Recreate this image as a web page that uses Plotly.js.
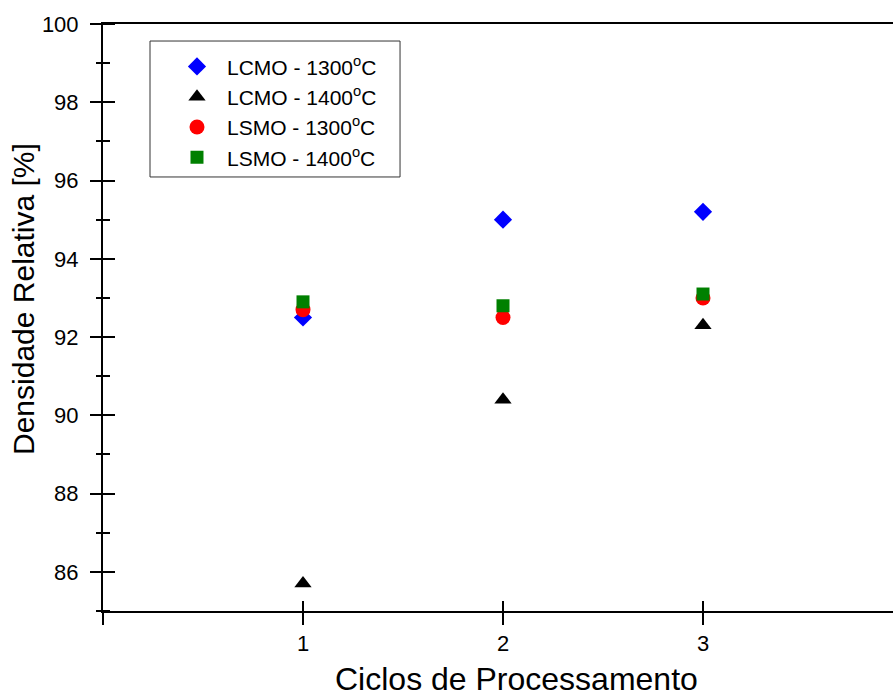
<!DOCTYPE html>
<html>
<head>
<meta charset="utf-8">
<script src="https://cdn.plot.ly/plotly-3.0.1.min.js"></script>
<style>html,body{margin:0;padding:0;background:#fff;}#chart{width:893px;height:694px;}</style>
</head>
<body>
<div id="chart"></div>
<script>
var cycles = [1, 2, 3];
var lcmo1300 = [92.5, 95.0, 95.2];
var lcmo1400 = [85.7, 90.4, 92.3];
var lsmo1300 = [92.7, 92.5, 93.0];
var lsmo1400 = [92.9, 92.8, 93.1];
var seriesNames = ['LCMO - 1300<sup>o</sup>C', 'LCMO - 1400<sup>o</sup>C', 'LSMO - 1300<sup>o</sup>C', 'LSMO - 1400<sup>o</sup>C'];
var xTitle = 'Ciclos de Processamento';
var yTitle = 'Densidade Relativa [%]';
var xTickVals = [0, 1, 2, 3];
var xTickText = ['', '1', '2', '3'];
var yTickVals = [86, 88, 90, 92, 94, 96, 98, 100];
var yTickText = ['86', '88', '90', '92', '94', '96', '98', '100'];

var FONT = 'Liberation Sans, Arial, sans-serif';
var xr = [0, 3.95], yr = [85, 100];

var ghost = {opacity: 0, size: 1};
var traces = [
  {x: cycles, y: lcmo1300, xaxis: 'x2', yaxis: 'y2', showlegend: false, hoverinfo: 'skip', mode: 'markers', marker: ghost},
  {x: cycles, y: lcmo1300, xaxis: 'x', yaxis: 'y3', showlegend: false, hoverinfo: 'skip', mode: 'markers', marker: ghost},
  {x: cycles, y: lcmo1300, name: seriesNames[0], legendgroup: 'a', mode: 'markers', type: 'scatter',
   marker: {symbol: 'diamond', size: 14, color: '#0000FF'}},
  {x: cycles, y: lcmo1400, name: seriesNames[1], legendgroup: 'b', mode: 'markers', type: 'scatter',
   marker: {symbol: 'triangle-up', size: 15, color: '#000000'}},
  {x: cycles, y: lsmo1300, name: seriesNames[2], legendgroup: 'c', mode: 'markers', type: 'scatter',
   marker: {symbol: 'circle', size: 15, color: '#FF0000'}},
  {x: cycles, y: lsmo1400, name: seriesNames[3], legendgroup: 'd', mode: 'markers', type: 'scatter',
   marker: {symbol: 'square', size: 13, color: '#008000'}}
];

var hiddenAxis = {showgrid: false, zeroline: false, showline: false, showticklabels: false};

var layout = {
  width: 893, height: 694,
  margin: {l: 103, r: 0, t: 24, b: 83},
  paper_bgcolor: '#fff', plot_bgcolor: 'rgba(0,0,0,0)',
  font: {family: FONT, color: '#000'},
  showlegend: true,
  legend: {x: 0.081, y: 0.962, xanchor: 'left', yanchor: 'top',
    bgcolor: 'rgba(0,0,0,0)', borderwidth: 0,
    font: {family: FONT, size: 21, color: '#000'}, tracegroupgap: 0, itemwidth: 50},
  shapes: [
    {type: 'rect', xref: 'paper', yref: 'paper', x0: 0.0595, x1: 0.376, y0: 0.7394, y1: 0.971,
     line: {color: '#333', width: 1}, fillcolor: '#fff', layer: 'above'}
  ],
  xaxis: {range: xr, tickvals: xTickVals, ticktext: xTickText, ticks: 'outside', ticklen: 12, tickwidth: 2,
    tickcolor: '#000', showline: true, linewidth: 2, linecolor: '#000', mirror: true, showgrid: false,
    zeroline: false, tickfont: {family: FONT, size: 22}, ticklabelstandoff: 0},
  yaxis: {range: yr, tickvals: yTickVals, ticktext: yTickText, ticks: 'outside', ticklen: 11, tickwidth: 2,
    tickcolor: '#000', showline: true, linewidth: 2, linecolor: '#000', showgrid: false, zeroline: false,
    minor: {dtick: 1, tick0: 85, ticks: 'outside', ticklen: 5, tickwidth: 2, tickcolor: '#000'},
    tickfont: {family: FONT, size: 22}, ticklabelstandoff: 7},
  xaxis2: Object.assign({range: xr, overlaying: 'x', anchor: 'free', position: 0.0187, side: 'bottom',
    tickvals: [1, 2, 3], ticks: 'outside', ticklen: 10, tickwidth: 2, tickcolor: '#000'}, hiddenAxis),
  yaxis2: Object.assign({range: yr, overlaying: 'y', anchor: 'free', position: 0.0152, side: 'left',
    tickvals: yTickVals, ticks: 'outside', ticklen: 12, tickwidth: 2, tickcolor: '#000'}, hiddenAxis),
  yaxis3: Object.assign({range: yr, overlaying: 'y', anchor: 'free', position: 0.0089, side: 'left',
    tickvals: yTickVals, ticks: '',
    minor: {dtick: 1, tick0: 85, ticks: 'outside', ticklen: 7, tickwidth: 2, tickcolor: '#000'}}, hiddenAxis),
  annotations: [
    {text: xTitle, xref: 'paper', yref: 'paper', x: 0.5228, y: -0.116, xanchor: 'center', yanchor: 'middle',
     showarrow: false, font: {family: FONT, size: 32, color: '#000'}},
    {text: yTitle, xref: 'paper', yref: 'paper', x: -0.1013, y: 0.5315, xanchor: 'center', yanchor: 'middle',
     textangle: -90, showarrow: false, font: {family: FONT, size: 30, color: '#000'}}
  ]
};

Plotly.newPlot('chart', traces, layout, {displayModeBar: false});
</script>
</body>
</html>
